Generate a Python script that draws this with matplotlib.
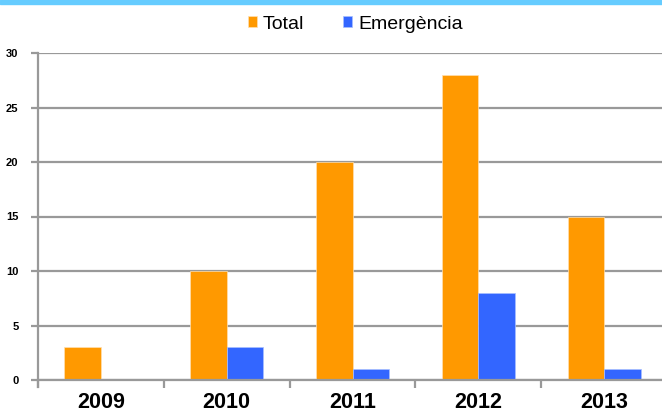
import matplotlib
matplotlib.use("Agg")
from matplotlib import pyplot as plt
import numpy as np

years = ['2009', '2010', '2011', '2012', '2013']
total = [3, 10, 20, 28, 15]
emergencia = [0, 3, 1, 8, 1]
y_ticks = [0, 5, 10, 15, 20, 25, 30]

ORANGE = '#FF9900'
BLUE = '#3366FF'
GRID = '#999999'
BAR_W = 0.29

plt.rcParams['font.family'] = ['Liberation Sans', 'DejaVu Sans']

fig = plt.figure(figsize=(6.62, 4.12), dpi=100)
ax = fig.add_axes([38/662, 32/412, 629/662, 327/412])

x = np.arange(len(years))
ax.bar(x - BAR_W/2, total, BAR_W, color=ORANGE, edgecolor='#FFE0B0', linewidth=0.5,
       label='Total', zorder=3)
ax.bar(x + BAR_W/2, emergencia, BAR_W, color=BLUE, edgecolor='#A8C0FF', linewidth=0.5,
       label='Emergència', zorder=3)

ax.set_xlim(-0.5, len(years) - 0.5)
ax.set_ylim(0, 30)
ax.set_yticks(y_ticks)
ax.set_yticklabels([str(v) for v in y_ticks], fontsize=8, fontweight='bold')
ax.yaxis.grid(True, color=GRID, linewidth=1.6, zorder=0)
ax.set_axisbelow(True)

# category labels at centers, tick marks at slot boundaries
ax.set_xticks(x)
ax.set_xticklabels(years, fontsize=15.5, fontweight='bold')
ax.tick_params(axis='x', which='major', length=0, pad=9)
ax.set_xticks(np.arange(len(years)) - 0.5, minor=True)
ax.tick_params(axis='x', which='minor', length=6, width=1.6, color=GRID)
ax.tick_params(axis='y', length=5, width=1.6, color=GRID, pad=9)

for s in ['top', 'right']:
    ax.spines[s].set_visible(False)
for s in ['left', 'bottom']:
    ax.spines[s].set_color(GRID)
    ax.spines[s].set_linewidth(1.6)
ax.spines['left'].set_bounds(-0.6, 30)
ax.spines['left'].set_zorder(4)
ax.spines['bottom'].set_zorder(4)

fig.legend(loc='upper center', bbox_to_anchor=(0.537, 0.995), ncol=2, frameon=False,
           fontsize=14, handlelength=0.46, handleheight=0.46, handletextpad=0.3,
           columnspacing=2.0, borderpad=0.2)

# light blue band along the top
fig.add_artist(plt.Rectangle((0, 1 - 4/412), 1, 4/412, transform=fig.transFigure,
                             color='#66CCFF', zorder=5))

fig.savefig('out.png', dpi=100)
